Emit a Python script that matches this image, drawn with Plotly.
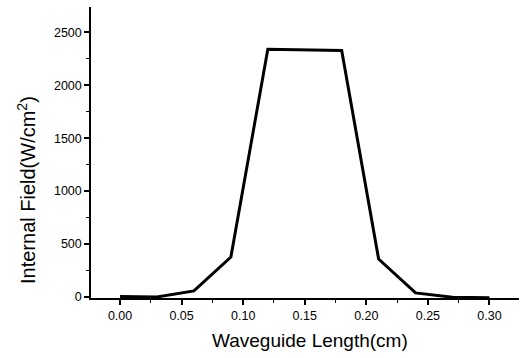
import plotly.graph_objects as go

x_cm = [0.00, 0.03, 0.06, 0.09, 0.12, 0.15, 0.18, 0.21, 0.24, 0.27, 0.30]
field = [5, 0, 57, 377, 2340, 2335, 2330, 358, 38, -3, -8]

x_ticks = [0.00, 0.05, 0.10, 0.15, 0.20, 0.25, 0.30]
x_ticklabels = ["0.00", "0.05", "0.10", "0.15", "0.20", "0.25", "0.30"]
y_ticks = [0, 500, 1000, 1500, 2000, 2500]
x_title = "Waveguide Length(cm)"
y_title = "Internal Field(W/cm<sup>2</sup>)"

fig = go.Figure(go.Scatter(x=x_cm, y=field, mode="lines",
                           line=dict(color="black", width=3), showlegend=False))

font = "Liberation Sans, Arial, sans-serif"
L, R, T, B, W, H = 91, 3, 7, 60, 522, 358
pw, ph = W - L - R, H - T - B
fig.update_layout(
    width=W, height=H,
    margin=dict(l=L, r=R, t=T, b=B),
    paper_bgcolor="white", plot_bgcolor="white",
    font=dict(family=font, color="black", size=12),
    annotations=[
        dict(text=x_title, xref="paper", yref="paper",
             x=(310 - L) / pw, y=-(340 - (T + ph)) / ph,
             xanchor="center", yanchor="middle", showarrow=False,
             font=dict(size=19, family=font)),
        dict(text=y_title, xref="paper", yref="paper", textangle=-90,
             x=(26 - L) / pw, y=((T + ph) - 190) / ph,
             xanchor="center", yanchor="middle", showarrow=False,
             font=dict(size=20, family=font)),
    ],
)
fig.update_xaxes(
    range=[-0.0236, 0.324], tickvals=x_ticks, ticktext=x_ticklabels,
    automargin=False,
    showline=True, linecolor="black", linewidth=1.5, showgrid=False, zeroline=False,
    ticks="outside", ticklen=5, tickwidth=1.5, tickcolor="black",
    minor=dict(dtick=0.025, tick0=0, ticks="outside", ticklen=3, tickcolor="black", tickwidth=1),
    tickfont=dict(size=12.5),
)
fig.update_yaxes(
    range=[-10, 2740], tickvals=y_ticks,
    automargin=False,
    showline=True, linecolor="black", linewidth=1.5, showgrid=False, zeroline=False,
    ticks="outside", ticklen=5, tickwidth=1.5, tickcolor="black",
    minor=dict(dtick=250, tick0=0, ticks="outside", ticklen=3, tickcolor="black", tickwidth=1),
    tickfont=dict(size=12.5),
)

fig.write_html("out.html", config={"displayModeBar": False},
               post_script="document.body.style.margin='0';")
